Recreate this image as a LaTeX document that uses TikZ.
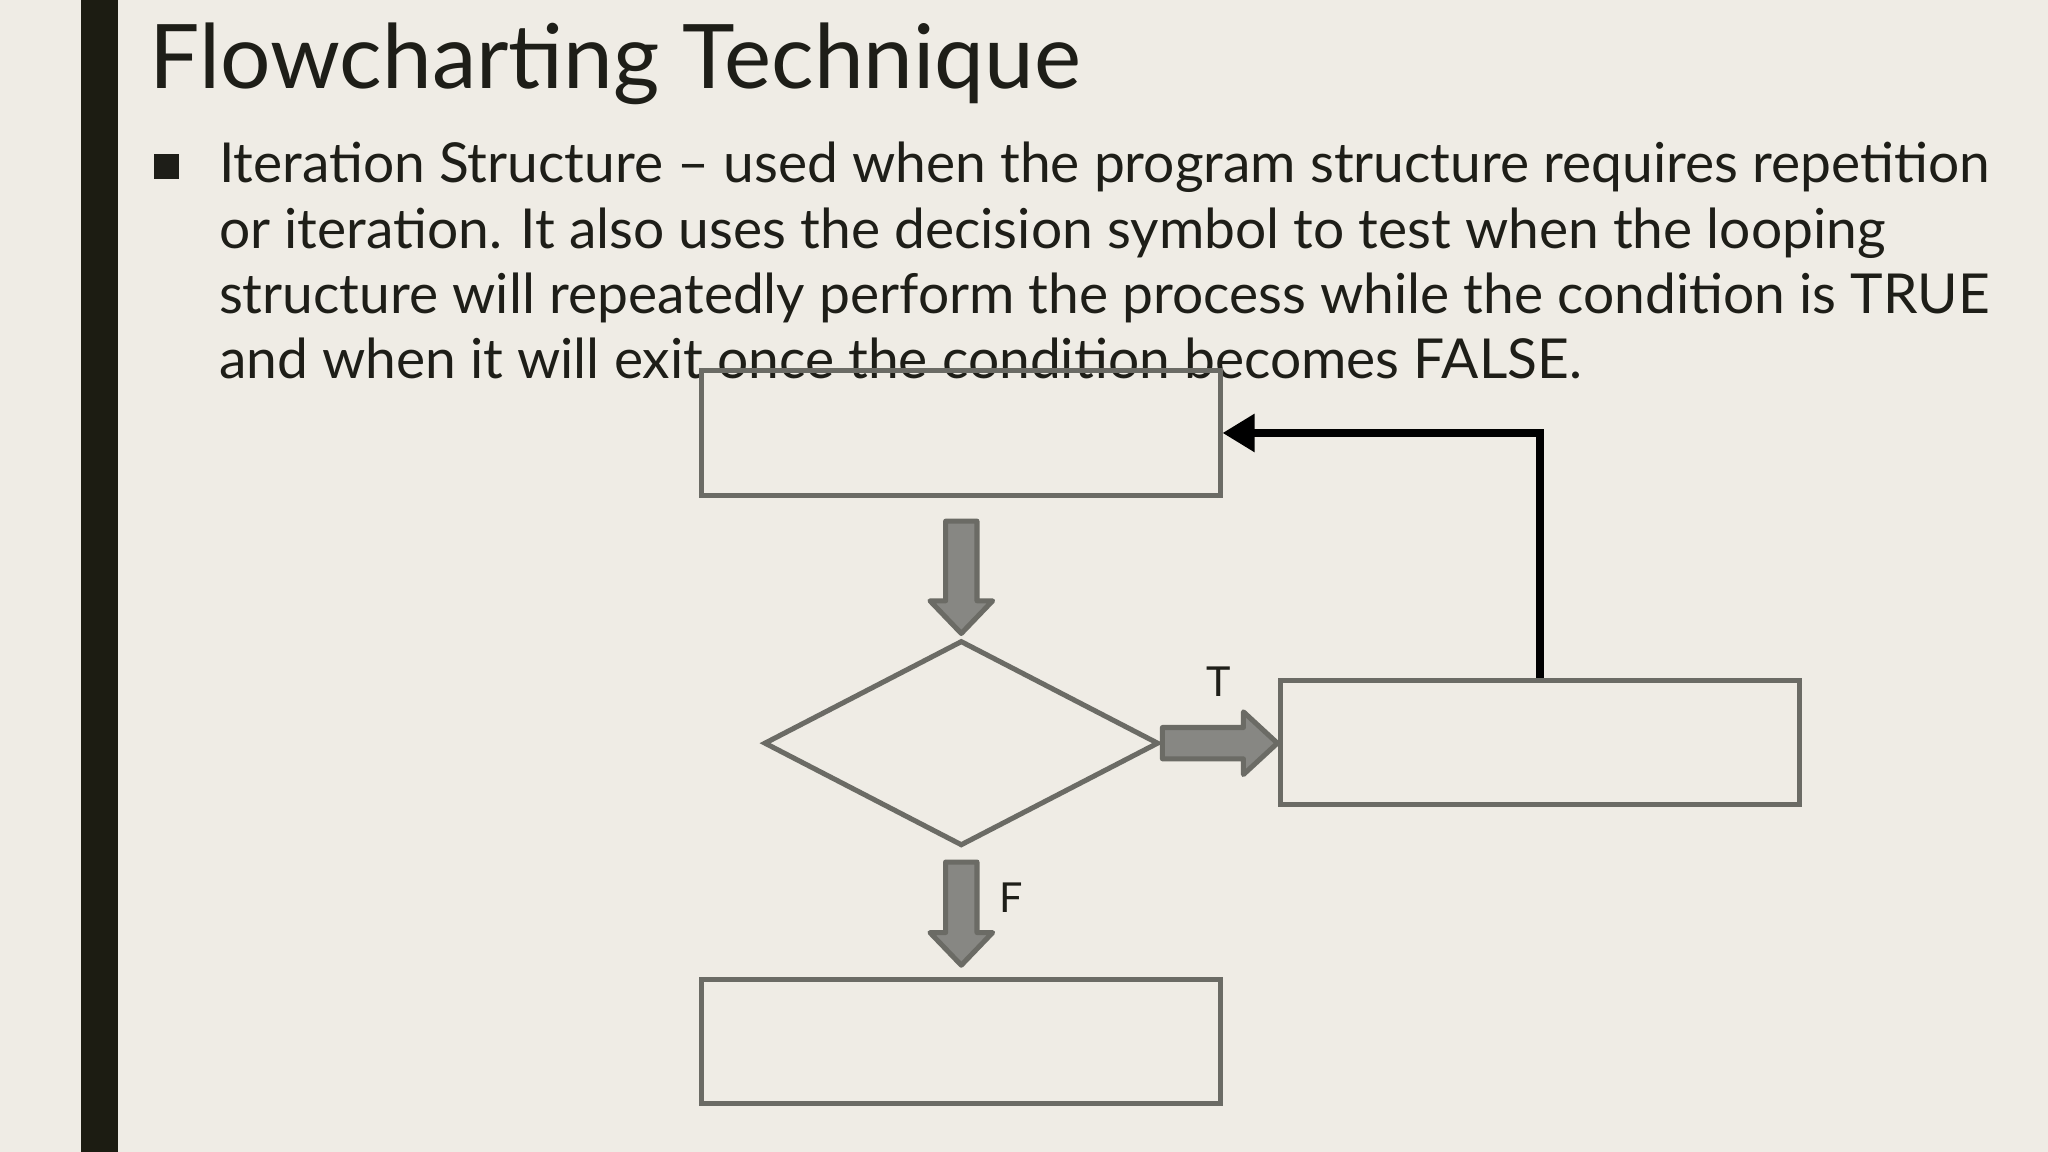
\documentclass[tikz,border=0pt]{standalone}
\usepackage{fontspec}
\setmainfont{Lato}
\usetikzlibrary{shapes.geometric,arrows.meta}
\definecolor{bg}{HTML}{EFECE5}
\definecolor{bar}{HTML}{1C1C12}
\definecolor{edge}{HTML}{6B6B65}
\definecolor{fillg}{HTML}{878783}
\definecolor{txt}{HTML}{1E1E18}
\begin{document}
\begin{tikzpicture}[x=0.01cm,y=-0.01cm,
  boxn/.style={draw=edge,line width=1.1pt,minimum width=3.97cm,minimum height=0.95cm,inner sep=0pt},
  blk/.style={draw=edge,fill=fillg,line width=1.1pt,line join=round},
  bl/.style={anchor=base west,inner sep=0pt,text=txt,font=\fontsize{12pt}{14pt}\selectfont},
  lbl/.style={font=\fontsize{9pt}{10pt}\selectfont,text=txt}]
\fill[bg] (0,0) rectangle (1568,882);
\useasboundingbox (0,0) rectangle (1568,882);
\fill[bar] (62,0) rectangle (90,882);
\node[anchor=base west,inner sep=0pt,text=txt,font=\fontsize{19.4pt}{24pt}\selectfont] (title) at (114,68) {Flowcharting Technique};
\fill[txt] (118,118) rectangle (137,137);
\node[bl] (l1) at (167,140) {Iteration Structure – used when the program structure requires repetition};
\node[bl] (l2) at (167,190) {or iteration. It also uses the decision symbol to test when the looping};
\node[bl] (l3) at (167,240) {structure will repeatedly perform the process while the condition is TRUE};
\node[bl] (l4) at (167,290) {and when it will exit once the condition becomes FALSE.};
\node[boxn] (top) at (735.5,331.5) {};
\node[boxn] (right) at (1179,568.5) {};
\node[boxn] (bot) at (735.5,797.5) {};
\node[draw=edge,line width=1.1pt,diamond,shape aspect=1.92,minimum width=3.02cm,minimum height=1.57cm,inner sep=0pt] (dia) at (736,569) {};
\draw[blk] (724,399) -- (748,399) -- (748,460) -- (760,460) -- (736,485) -- (712,460) -- (724,460) -- cycle;
\draw[blk] (724,660) -- (748,660) -- (748,714) -- (760,714) -- (736,739) -- (712,714) -- (724,714) -- cycle;
\draw[blk] (890,557) -- (952,557) -- (952,545) -- (978,569) -- (952,593) -- (952,581) -- (890,581) -- cycle;
\node[lbl] (tl) at (933,522) {T};
\node[lbl] (fl) at (774,687) {F};
\draw[line width=1.6pt,-{Triangle[length=7pt,width=8pt]}] (right.north) |- (top.east);
\end{tikzpicture}
\end{document}
